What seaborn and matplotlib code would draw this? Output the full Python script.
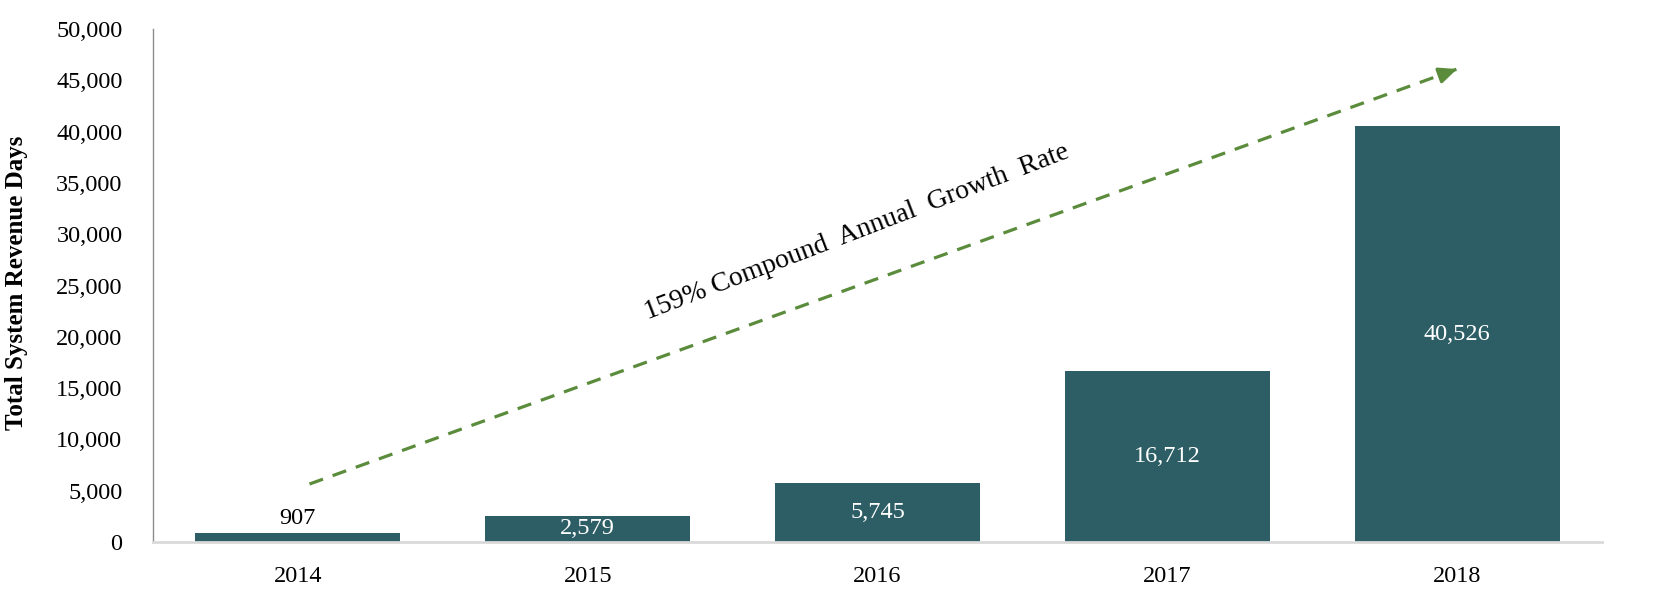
import matplotlib
matplotlib.use("Agg")
import matplotlib.pyplot as plt
import seaborn as sns
import pandas as pd
from matplotlib.ticker import FuncFormatter

# ---- data ----
years = ["2014", "2015", "2016", "2017", "2018"]
revenue_days = [907, 2579, 5745, 16712, 40526]
y_ticks = [0, 5000, 10000, 15000, 20000, 25000, 30000, 35000, 40000, 45000, 50000]
y_label = "Total System Revenue Days"
cagr_text = "159% Compound  Annual  Growth  Rate"
arrow_start = (0.04, 5650)
arrow_end = (4.0, 46100)

df = pd.DataFrame({"year": years, "days": revenue_days})

sns.set_theme(style="white")
plt.rcParams["font.family"] = ["Liberation Serif", "DejaVu Serif"]

BAR = "#2D5E66"
GREEN = "#5A8C3C"
FS = 17.5

fig = plt.figure(figsize=(16.56, 5.96), dpi=100)
ax = fig.add_axes([153 / 1656, 1 - 542 / 596, (1602 - 153) / 1656, (542 - 29) / 596])

sns.barplot(data=df, x="year", y="days", color=BAR, width=0.707, ax=ax,
            saturation=1, edgecolor="none")

ax.set_xlim(-0.5, len(years) - 0.5)
ax.set_ylim(0, 50000)
ax.set_yticks(y_ticks)
ax.yaxis.set_major_formatter(FuncFormatter(lambda v, p: f"{int(v):,}"))
ax.tick_params(axis="both", length=0, labelsize=FS, colors="black")
ax.tick_params(axis="y", pad=22)
ax.tick_params(axis="x", pad=17)

ax.set_xlabel("")
ax.set_ylabel(y_label, fontsize=18, fontweight="bold", color="black")
ax.yaxis.set_label_coords(-0.086, 0.505)

for s in ["top", "right"]:
    ax.spines[s].set_visible(False)
ax.spines["left"].set_color("#8C8C8C")
ax.spines["left"].set_linewidth(1.0)
ax.spines["bottom"].set_color("#D9D9D9")
ax.spines["bottom"].set_linewidth(2.0)

# value labels
for i, v in enumerate(revenue_days):
    if v < 2000:
        ax.annotate(f"{v:,}", xy=(i, v), xytext=(0, 14), textcoords="offset pixels",
                    ha="center", va="center", fontsize=FS, color="black")
    else:
        ax.text(i, v / 2, f"{v:,}", ha="center", va="center", fontsize=FS, color="white")

# dashed growth arrow
ax.plot([arrow_start[0], arrow_end[0]], [arrow_start[1], arrow_end[1]],
        color=GREEN, lw=2.3, linestyle=(0, (4.5, 3.2)), solid_capstyle="butt",
        dash_capstyle="butt", zorder=4)
fx = arrow_start[0] + (arrow_end[0] - arrow_start[0]) * 0.985
fy = arrow_start[1] + (arrow_end[1] - arrow_start[1]) * 0.985
ax.annotate("", xy=arrow_end, xytext=(fx, fy),
            arrowprops=dict(arrowstyle="-|>,head_length=0.9,head_width=0.4",
                            color=GREEN, lw=2.3, shrinkA=0, shrinkB=0), zorder=5)

ax.text(1.93, 30200, cagr_text, rotation=21, rotation_mode="anchor",
        ha="center", va="center", fontsize=20, color="black")

fig.savefig("out.png", dpi=100, facecolor="white")
